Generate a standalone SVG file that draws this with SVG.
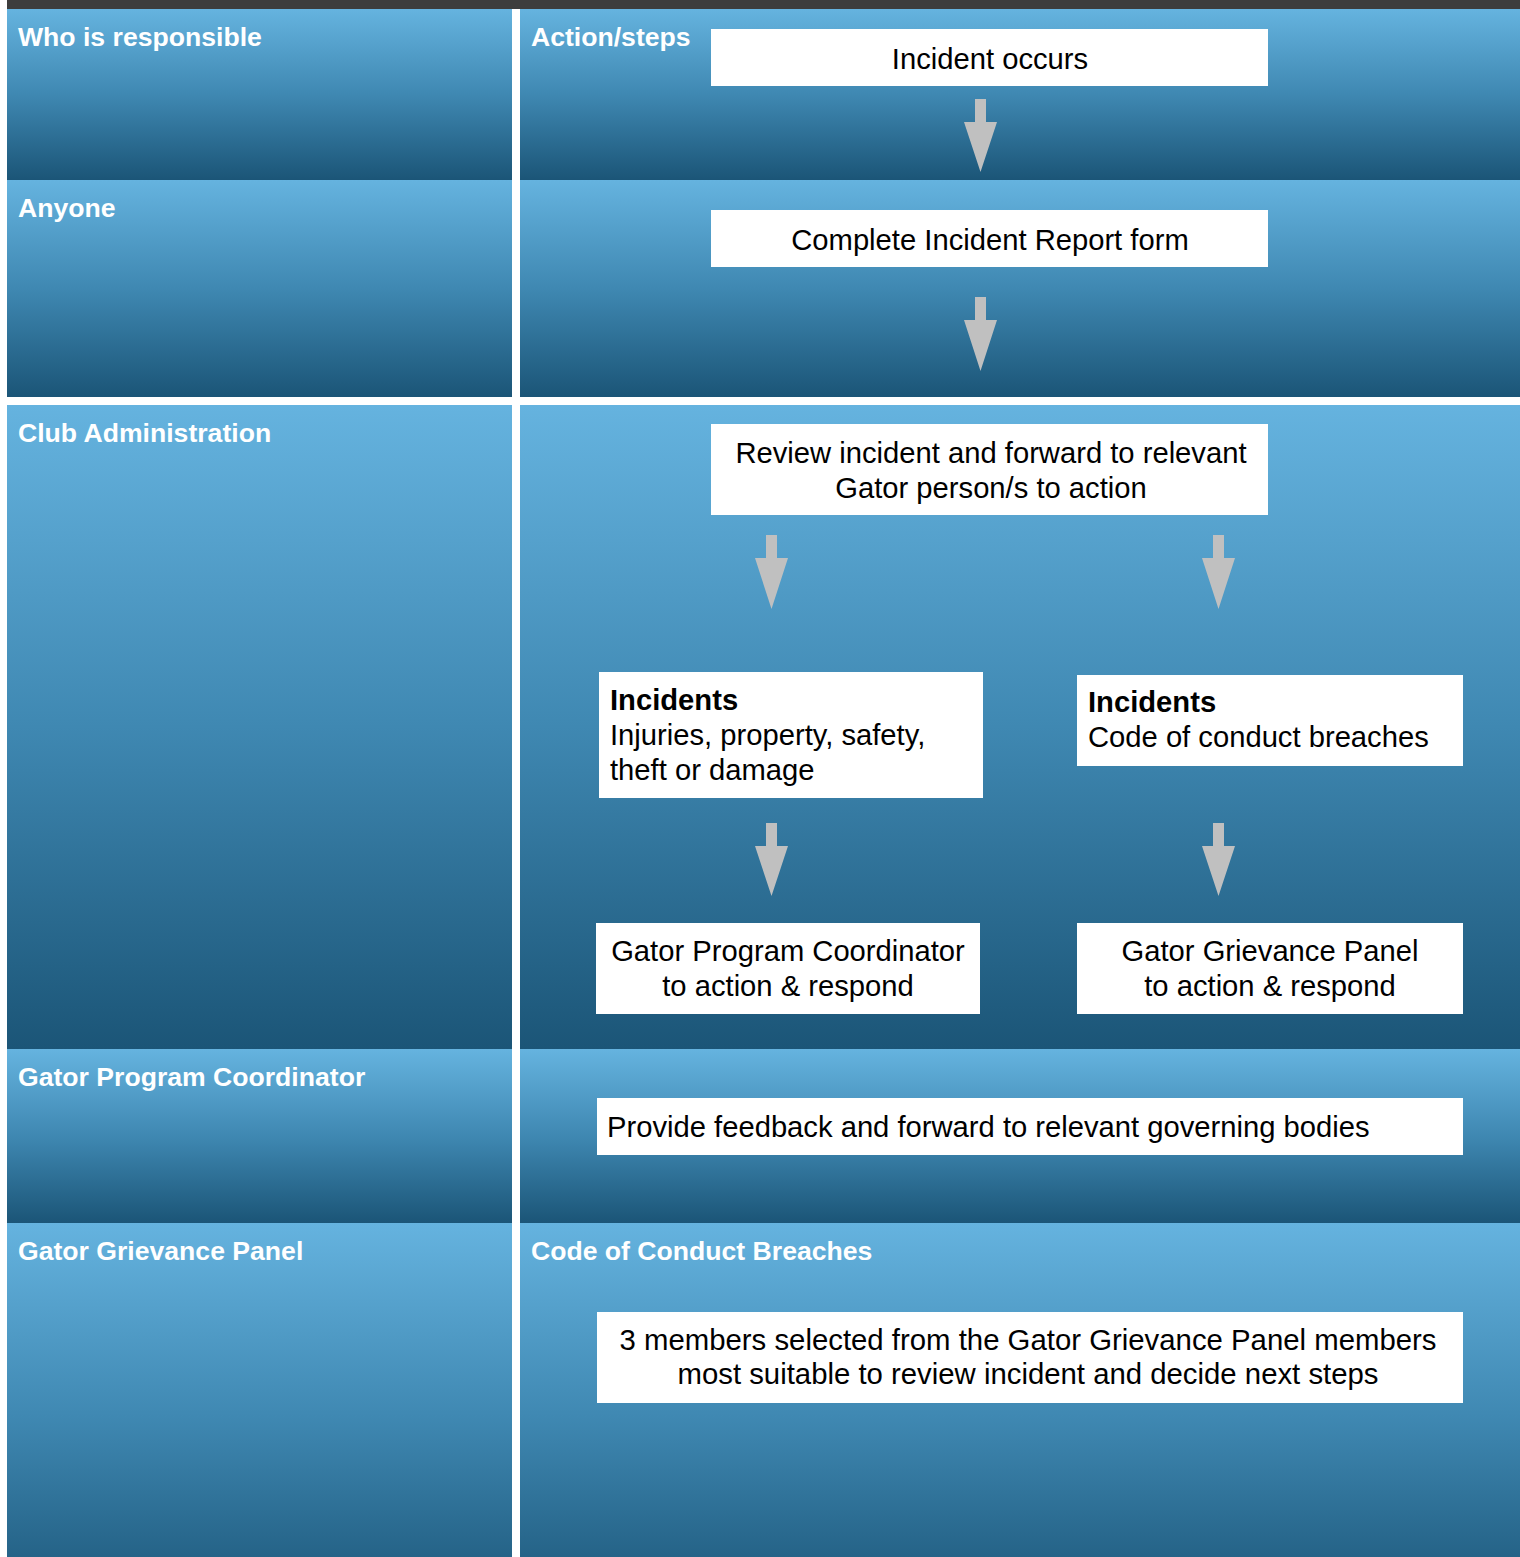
<svg xmlns="http://www.w3.org/2000/svg" width="1520" height="1557" viewBox="0 0 1520 1557">
<defs>
<linearGradient id="bg" x1="0" y1="0" x2="0" y2="1">
<stop offset="0" stop-color="#65b3df"/>
<stop offset="0.5" stop-color="#3f88b2"/>
<stop offset="1" stop-color="#1b5577"/>
</linearGradient>
</defs>
<style>
.cell{fill:url(#bg)}
.box{fill:#ffffff}
.hd{font-family:"Liberation Sans",Arial,sans-serif;font-weight:bold;font-size:26.6px;fill:#ffffff}
.t{font-family:"Liberation Sans",Arial,sans-serif;font-size:29.2px;fill:#000000}
.c{text-anchor:middle}
.b{font-weight:bold}
.arr{fill:#c0c0c0}
</style>
<rect x="0" y="0" width="1520" height="1557" fill="#ffffff"/>
<rect x="7" y="0" width="1513" height="9" fill="#3d3d3d"/>
<g id="lanes">
<rect class="cell" x="7" y="9" width="505" height="171"/>
<rect class="cell" x="520" y="9" width="1000" height="171"/>
<rect class="cell" x="7" y="180" width="505" height="217"/>
<rect class="cell" x="520" y="180" width="1000" height="217"/>
<rect class="cell" x="7" y="405" width="505" height="644"/>
<rect class="cell" x="520" y="405" width="1000" height="644"/>
<rect class="cell" x="7" y="1049" width="505" height="174"/>
<rect class="cell" x="520" y="1049" width="1000" height="174"/>
<rect class="cell" x="7" y="1223" width="505" height="388"/>
<rect class="cell" x="520" y="1223" width="1000" height="388"/>
<text class="hd" x="18" y="46">Who is responsible</text>
<text class="hd" x="531" y="46">Action/steps</text>
<text class="hd" x="18" y="217">Anyone</text>
<text class="hd" x="18" y="442">Club Administration</text>
<text class="hd" x="18" y="1086">Gator Program Coordinator</text>
<text class="hd" x="18" y="1260">Gator Grievance Panel</text>
<text class="hd" x="531" y="1260">Code of Conduct Breaches</text>
</g>
<g id="connectors">
<path class="arr" d="M975 99H986V122H997L980.5 172L964 122H975Z"/>
<path class="arr" d="M975 297H986V320H997L980.5 371L964 320H975Z"/>
<path class="arr" d="M766 535H777V558H788L771.5 609L755 558H766Z"/>
<path class="arr" d="M1213 535H1224V558H1235L1218.5 609L1202 558H1213Z"/>
<path class="arr" d="M766 823H777V846H788L771.5 896L755 846H766Z"/>
<path class="arr" d="M1213 823H1224V846H1235L1218.5 896L1202 846H1213Z"/>
</g>
<g id="n1"><rect class="box" x="711" y="29" width="557" height="57"/><text class="t c" x="990" y="69">Incident occurs</text></g>
<g id="n2"><rect class="box" x="711" y="210" width="557" height="57"/><text class="t c" x="990" y="250">Complete Incident Report form</text></g>
<g id="n3"><rect class="box" x="711" y="424" width="557" height="91"/><text class="t c" x="991" y="463">Review incident and forward to relevant</text><text class="t c" x="991" y="498">Gator person/s to action</text></g>
<g id="n4"><rect class="box" x="599" y="672" width="384" height="126"/><text class="t b" x="610" y="710">Incidents</text><text class="t" x="610" y="745">Injuries, property, safety,</text><text class="t" x="610" y="780">theft or damage</text></g>
<g id="n5"><rect class="box" x="1077" y="675" width="386" height="91"/><text class="t b" x="1088" y="712">Incidents</text><text class="t" x="1088" y="747">Code of conduct breaches</text></g>
<g id="n6"><rect class="box" x="596" y="923" width="384" height="91"/><text class="t c" x="788" y="961">Gator Program Coordinator</text><text class="t c" x="788" y="996">to action &amp; respond</text></g>
<g id="n7"><rect class="box" x="1077" y="923" width="386" height="91"/><text class="t c" x="1270" y="961">Gator Grievance Panel</text><text class="t c" x="1270" y="996">to action &amp; respond</text></g>
<g id="n8"><rect class="box" x="597" y="1098" width="866" height="57"/><text class="t" x="607" y="1137">Provide feedback and forward to relevant governing bodies</text></g>
<g id="n9"><rect class="box" x="597" y="1312" width="866" height="91"/><text class="t c" x="1028" y="1350" textLength="817" lengthAdjust="spacingAndGlyphs">3 members selected from the Gator Grievance Panel members</text><text class="t c" x="1028" y="1384" textLength="701" lengthAdjust="spacingAndGlyphs">most suitable to review incident and decide next steps</text></g>
</svg>
